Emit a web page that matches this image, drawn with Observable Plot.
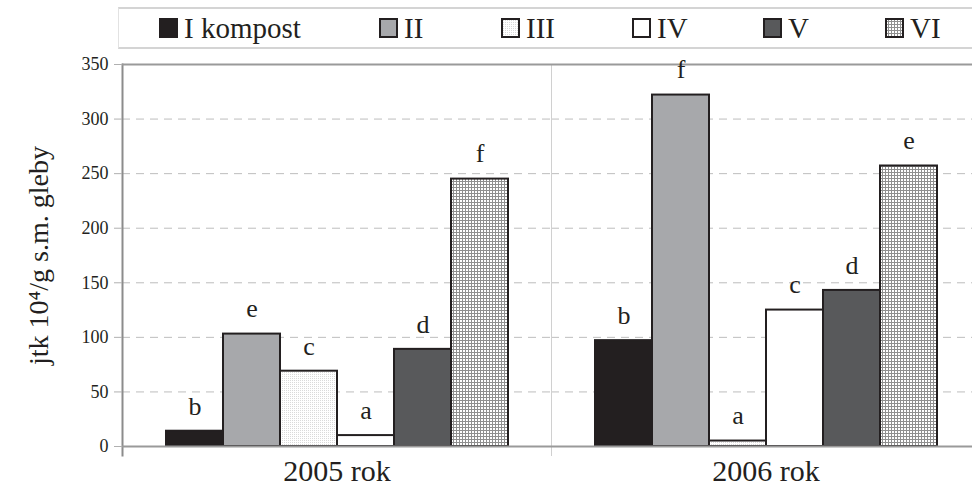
<!DOCTYPE html>
<html>
<head>
<meta charset="utf-8">
<script src="https://cdn.jsdelivr.net/npm/d3@7"></script>
<script src="https://cdn.jsdelivr.net/npm/@observablehq/plot@0.6"></script>
<style>
  html, body { margin: 0; padding: 0; background: #fff; overflow: hidden; width: 972px; height: 490px; }
  #wrap { position: relative; width: 972px; height: 490px; overflow: hidden; }
  #legend { position: absolute; left: 118px; top: 7px; width: 900px; height: 38px; z-index: 2;
    border-top: 2px solid #d4d4d4; border-bottom: 2px solid #d4d4d4; border-left: 1px solid #e2e2e2;
    font-family: 'Liberation Serif', 'Times New Roman', serif; font-size: 29px; color: #231f20; }
  .item { position: absolute; top: 0; height: 38px; display: flex; align-items: center; gap: 6px; white-space: nowrap; }
  .item span { line-height: 38px; }
  #chart { position: absolute; left: 0; top: 46px; width: 980px; z-index: 1; }
</style>
</head>
<body>
<svg width="0" height="0" style="position:absolute">
  <defs>
    <pattern id="dots" width="2" height="2" patternUnits="userSpaceOnUse">
      <rect width="2" height="2" fill="#ffffff"></rect>
      <rect width="1" height="1" fill="#dadada"></rect>
    </pattern>
    <pattern id="grid" width="3" height="3" patternUnits="userSpaceOnUse">
      <rect width="3" height="3" fill="#ffffff"></rect>
      <rect width="3" height="1" fill="#8f8f8f"></rect>
      <rect width="1" height="3" fill="#8f8f8f"></rect>
    </pattern>
  </defs>
</svg>
<div id="wrap">
  <div id="legend"></div>
  <div id="chart"></div>
</div>
<script>
const categories = ["I", "II", "III", "IV", "V", "VI"];
const legendLabels = ["I kompost", "II", "III", "IV", "V", "VI"];
const years = ["2005 rok", "2006 rok"];
const values2005 = [14, 103, 69, 10, 89, 245];
const values2006 = [97, 322, 5, 125, 143, 257];
const letters2005 = ["b", "e", "c", "a", "d", "f"];
const letters2006 = ["b", "f", "a", "c", "d", "e"];
const yTicks = [0, 50, 100, 150, 200, 250, 300, 350];
const fills = ["#231f20", "#a7a8ab", "url(#dots)", "#ffffff", "#58595b", "url(#grid)"];
const legendLeft = [40, 260, 382, 513, 644, 766];

const data = [];
categories.forEach((c, i) => {
  data.push({year: years[0], cat: c, value: values2005[i], letter: letters2005[i]});
  data.push({year: years[1], cat: c, value: values2006[i], letter: letters2006[i]});
});

// legend
const legend = d3.select("#legend");
legendLabels.forEach((lab, i) => {
  const it = legend.append("div").attr("class", "item").style("left", legendLeft[i] + "px");
  const s = it.append("svg").attr("width", 19).attr("height", 20);
  s.append("rect").attr("x", 1).attr("y", 1).attr("width", 17).attr("height", 18)
    .attr("fill", fills[i]).attr("stroke", "#231f20").attr("stroke-width", 2);
  it.append("span").text(lab);
});

const serif = "'Liberation Serif', 'Times New Roman', serif";
const plot = Plot.plot({
  width: 980,
  height: 444,
  marginTop: 18,
  marginBottom: 44,
  marginLeft: 122,
  marginRight: 0,
  style: {fontFamily: serif, color: "#231f20", background: "transparent", maxWidth: "none"},
  fx: {domain: years, padding: 0},
  x: {domain: categories, paddingInner: 0, paddingOuter: 0.73, axis: null},
  y: {domain: [0, 350]},
  color: {domain: categories, range: fills},
  marks: [
    Plot.gridY(yTicks.filter(t => t > 0 && t < 350), {stroke: "#bdbdbd", strokeOpacity: 1, strokeDasharray: "8,6", strokeWidth: 1}),
    Plot.frame({anchor: "left", stroke: "#d0d0d0", strokeWidth: 1, insetBottom: -9}),
    Plot.ruleY([350], {stroke: "#9a9a9a", strokeWidth: 2}),
    Plot.barY(data, {fx: "year", x: "cat", y: "value", fill: "cat", stroke: "#231f20", strokeWidth: 2, inset: 0}),
    Plot.ruleY([0], {stroke: "#9a9a9a", strokeWidth: 2}),
    Plot.text(data, {fx: "year", x: "cat", y: "value", text: "letter", dy: -25, fontSize: 26, fontFamily: serif, fill: "#231f20"}),
    Plot.axisY(yTicks, {anchor: "left", tickSize: 8, tickPadding: 6, fontSize: 18, fontFamily: serif, stroke: "#b0b0b0",
      label: "jtk 10⁴/g s.m. gleby", labelAnchor: "center", labelOffset: 94, labelArrow: false}),
    Plot.axisFx({anchor: "bottom", tickSize: 0, tickPadding: 13, fontSize: 30, fontFamily: serif, label: null})
  ]
});
document.getElementById("chart").appendChild(plot);

// stronger y-axis line on the first facet's frame
const nodes = d3.select(plot).selectAll('g[aria-label="frame"] line, g[aria-label="frame"] path, g[aria-label="frame"] rect').nodes();
if (nodes.length) d3.select(nodes[0]).attr("stroke", "#8c8c8c").attr("stroke-width", 2);
// axis label font size
d3.select(plot).selectAll('g[aria-label="y-axis label"] text').attr("font-size", 28).attr("font-family", serif);
</script>
</body>
</html>
